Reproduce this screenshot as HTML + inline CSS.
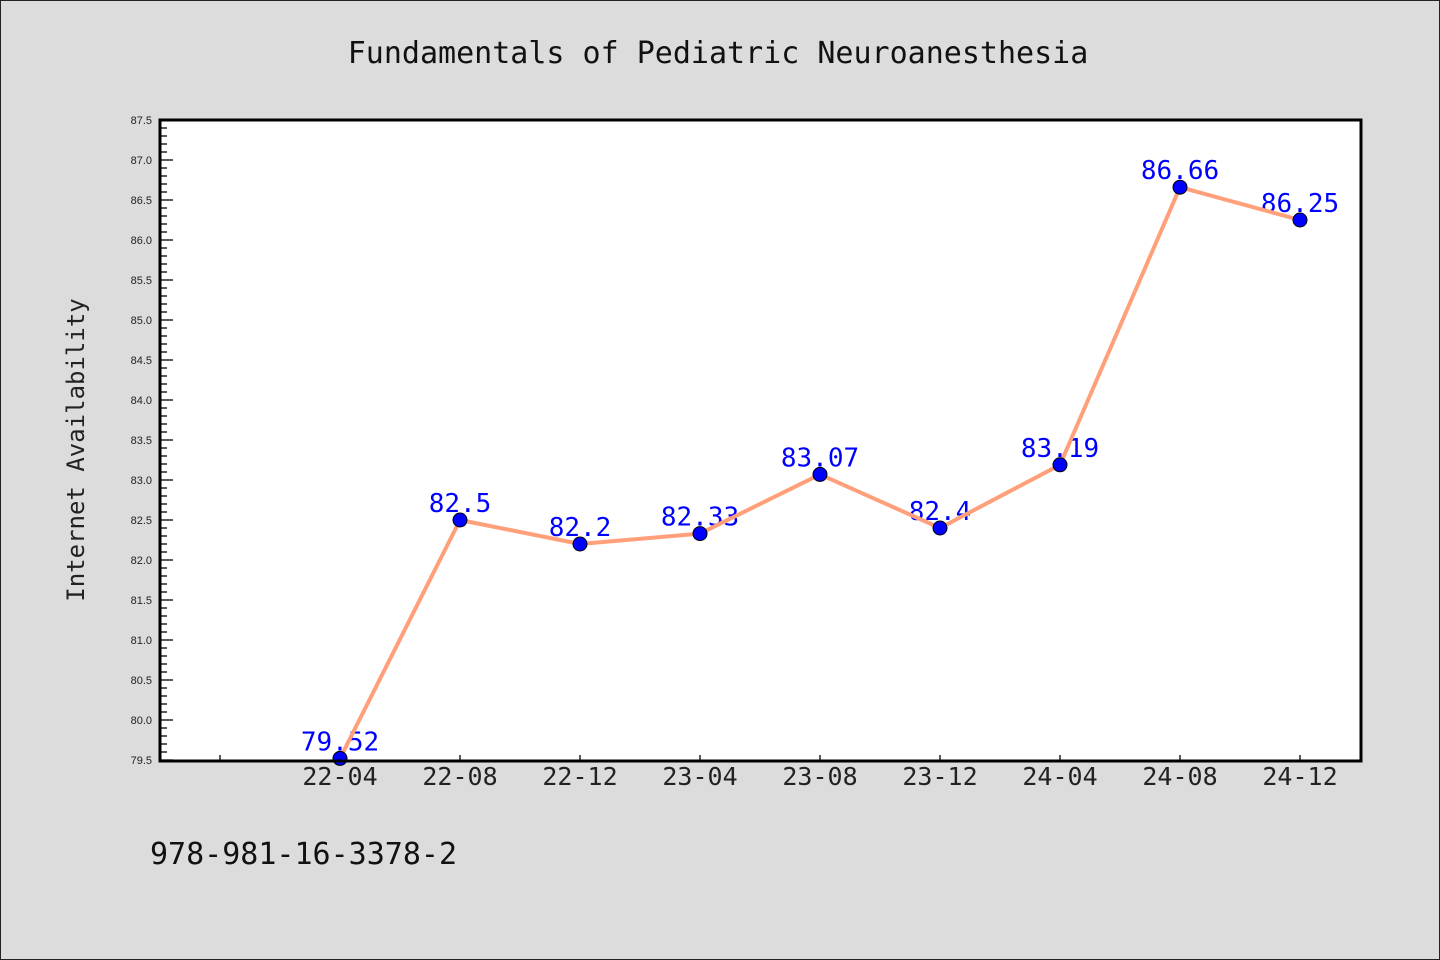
<!DOCTYPE html>
<html><head><meta charset="utf-8"><style>
html,body{margin:0;padding:0;background:#dcdcdc;}
svg{display:block;}
</style></head><body>
<svg id="chart" width="1440" height="960" xmlns="http://www.w3.org/2000/svg">
<rect x="0.5" y="0.5" width="1439" height="959" fill="#dcdcdc" stroke="#222"/>
<text x="718" y="63" text-anchor="middle" font-family="DejaVu Sans Mono, monospace" font-size="30" fill="#111">Fundamentals of Pediatric Neuroanesthesia</text>
<rect x="160" y="120" width="1201" height="641" fill="#fff"/>
<g id="axes"></g>
<g id="labels"></g>
<g id="series"></g>
<rect x="160" y="120" width="1201" height="641" fill="none" stroke="#000" stroke-width="3"/>
<text transform="translate(84,450) rotate(-90)" text-anchor="middle" font-family="DejaVu Sans Mono, monospace" font-size="24" fill="#222">Internet Availability</text>
<text x="150" y="864" font-family="DejaVu Sans Mono, monospace" font-size="30" fill="#111">978-981-16-3378-2</text>
</svg>
<script>
const categories = ["22-04","22-08","22-12","23-04","23-08","23-12","24-04","24-08","24-12"];
const values = [79.52,82.5,82.2,82.33,83.07,82.4,83.19,86.66,86.25];
const valueLabels = ["79.52","82.5","82.2","82.33","83.07","82.4","83.19","86.66","86.25"];
const yTicks = [79.5,80.0,80.5,81.0,81.5,82.0,82.5,83.0,83.5,84.0,84.5,85.0,85.5,86.0,86.5,87.0,87.5];
const NS="http://www.w3.org/2000/svg";
const yMin=79.5,yMax=87.5,yTop=120,yBottom=760;
function y(v){return yBottom-(v-yMin)/(yMax-yMin)*(yBottom-yTop);}
function x(i){return 340+120*i;}
function mk(tag,attrs,parent){const e=document.createElementNS(NS,tag);for(const k in attrs)e.setAttribute(k,attrs[k]);parent.appendChild(e);return e;}
const axesG=document.getElementById('axes'),labelsG=document.getElementById('labels'),seriesG=document.getElementById('series');
for(let k=0;k<=80;k++){
  const v=yMin+k*0.1;
  const major=(k%5===0);
  const t=mk('line',{x1:160,x2:major?173:167,y1:y(v),y2:y(v),stroke:'#000','stroke-width':1.3},axesG);
  
  
}
yTicks.forEach(v=>{
  const t=mk('text',{x:152,y:y(v)+4,'text-anchor':'end','font-family':'Liberation Sans, sans-serif','font-size':11,fill:'#222'},axesG);
  t.textContent=v.toFixed(1);
  
  
});
for(let i=-1;i<categories.length;i++){
  const t=mk('line',{x1:x(i),x2:x(i),y1:761,y2:755,stroke:'#000','stroke-width':1.3},axesG);
  
  
}
categories.forEach((c,i)=>{
  const t=mk('text',{x:x(i),y:785,'text-anchor':'middle','font-family':'DejaVu Sans Mono, monospace','font-size':25,fill:'#222'},axesG);
  t.textContent=c;
  
  
});
values.forEach((v,i)=>{
  const t=mk('text',{x:x(i),y:y(v)-8,'text-anchor':'middle','font-family':'DejaVu Sans Mono, monospace','font-size':26,fill:'#0000ff'},labelsG);
  t.textContent=valueLabels[i];
  
  
});
const line=mk('polyline',{points:values.map((v,i)=>x(i)+','+y(v)).join(' '),fill:'none',stroke:'#ffa07a','stroke-width':4,'stroke-linejoin':'round'},seriesG);


values.forEach((v,i)=>{
  const c=mk('circle',{cx:x(i),cy:y(v),r:7,fill:'#0000ff',stroke:'#000','stroke-width':1},seriesG);
  
  
});
</script>
</body></html>
